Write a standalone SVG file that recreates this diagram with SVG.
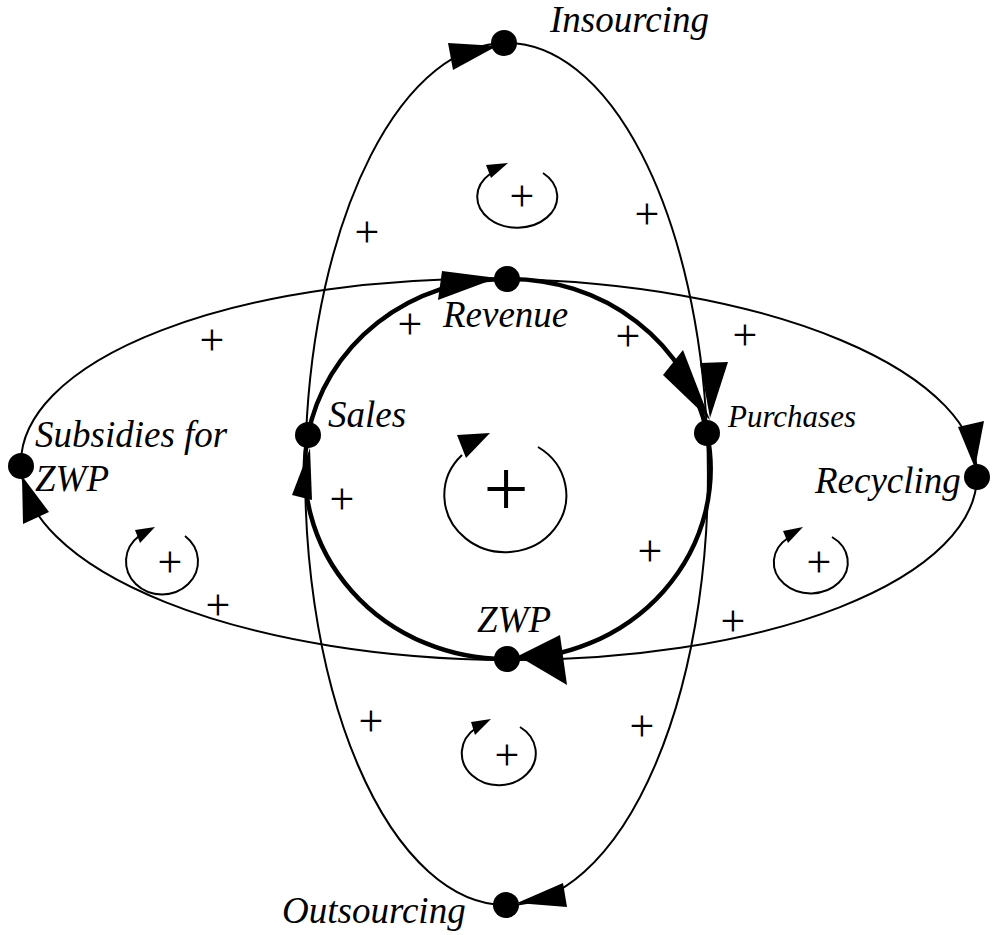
<svg xmlns="http://www.w3.org/2000/svg" width="993" height="935" viewBox="0 0 993 935">
<style>
.thin{fill:none;stroke:#000;stroke-width:2}
.thick{fill:none;stroke:#000;stroke-width:4.5}
.loop{fill:none;stroke:#000;stroke-width:2}
.head{fill:#000;stroke:none}
.dot{fill:#000}
.lbl{font-family:'Liberation Serif','Times New Roman',serif;font-style:italic;font-size:37px;fill:#000}
.sm{font-size:31px}
.pl{font-family:'Liberation Serif','Times New Roman',serif;font-size:44px;fill:#000;text-anchor:middle}
.big{font-size:80px}
</style>
<rect width="993" height="935" fill="#fff"/>
<g id="connectors">
  <path class="thin" d="M306,435 A201,431 0 0 1 506,43"/>
  <path class="thin" d="M506,43 A201,431 0 0 1 707,433"/>
  <path class="thin" d="M707,433 A201,431 0 0 1 506,905"/>
  <path class="thin" d="M506,905 A201,431 0 0 1 306,435"/>
  <path class="thin" d="M507,279 A478,190 0.8 0 1 977,476"/>
  <path class="thin" d="M977,476 A478,190 0.8 0 1 507,660"/>
  <path class="thin" d="M507,660 A478,190 0.8 0 1 21,466"/>
  <path class="thin" d="M21,466 A478,190 0.8 0 1 507,279"/>
  <path class="thick" d="M308,435 A201,190 0 0 1 507,279"/>
  <path class="thick" d="M507,279 A201,190 0 0 1 707,433"/>
  <path class="thick" d="M707,433 A201,190 0 0 1 507,659"/>
  <path class="thick" d="M507,659 A201,190 0 0 1 308,435"/>
  <polygon class="head" points="448,43 453,70 497,46"/>
  <polygon class="head" points="442,271 438,300 497,278"/>
  <polygon class="head" points="663,375 683,350 710,420"/>
  <polygon class="head" points="700,363 728,362 710,418"/>
  <polygon class="head" points="958,427 984,421 975,468"/>
  <polygon class="head" points="560,635 567,685 518,656"/>
  <polygon class="head" points="563,883 567,907 517,903"/>
  <polygon class="head" points="292,495 312,500 310,448"/>
  <polygon class="head" points="23,524 49,512 22,476"/>
</g>
<g id="loops">
  <path class="loop" d="M543,173 A40,31 0 1 1 490,174"/>
  <polygon class="head" points="486,165 508,163 491,178"/>
  <path class="loop" d="M538,447 A61,57 0 1 1 462,455"/>
  <polygon class="head" points="457,435 490,433 466,458"/>
  <path class="loop" d="M185,536 A36,33 0 1 1 139,536"/>
  <polygon class="head" points="135,530 155,527 140,543"/>
  <path class="loop" d="M832,537 A37,31 0 1 1 788,538"/>
  <polygon class="head" points="783,531 803,527 788,543"/>
  <path class="loop" d="M520,727 A37,32 0 1 1 476,728"/>
  <polygon class="head" points="471,722 491,719 475,735"/>
</g>
<g id="polarities">
  <text class="pl" x="522" y="211">+</text>
  <text class="pl big" x="506" y="516">+</text>
  <text class="pl" x="170" y="577">+</text>
  <text class="pl" x="819" y="577">+</text>
  <text class="pl" x="507" y="770">+</text>
  <text class="pl" x="367" y="247">+</text>
  <text class="pl" x="647" y="229">+</text>
  <text class="pl" x="212" y="355">+</text>
  <text class="pl" x="410" y="339">+</text>
  <text class="pl" x="628" y="351">+</text>
  <text class="pl" x="745" y="350">+</text>
  <text class="pl" x="342" y="514">+</text>
  <text class="pl" x="650" y="566">+</text>
  <text class="pl" x="218" y="620">+</text>
  <text class="pl" x="733" y="636">+</text>
  <text class="pl" x="371" y="736">+</text>
  <text class="pl" x="642" y="741">+</text>
</g>
<g id="insourcing"><circle class="dot" cx="504" cy="43" r="13"/><text class="lbl" x="550" y="32">Insourcing</text></g>
<g id="revenue"><circle class="dot" cx="507" cy="279" r="13"/><text class="lbl" x="443" y="327">Revenue</text></g>
<g id="sales"><circle class="dot" cx="308" cy="435" r="13"/><text class="lbl" x="328" y="427">Sales</text></g>
<g id="purchases"><circle class="dot" cx="707" cy="433" r="13"/><text class="lbl sm" x="728" y="427">Purchases</text></g>
<g id="subsidies"><circle class="dot" cx="21" cy="466" r="13"/><text class="lbl" x="35" y="447">Subsidies for</text><text class="lbl" x="35" y="491">ZWP</text></g>
<g id="recycling"><circle class="dot" cx="977" cy="477" r="13"/><text class="lbl" x="815" y="493">Recycling</text></g>
<g id="zwp"><circle class="dot" cx="507" cy="659" r="13"/><text class="lbl" x="477" y="632">ZWP</text></g>
<g id="outsourcing"><circle class="dot" cx="506" cy="905" r="13"/><text class="lbl" x="282" y="923">Outsourcing</text></g>
</svg>
